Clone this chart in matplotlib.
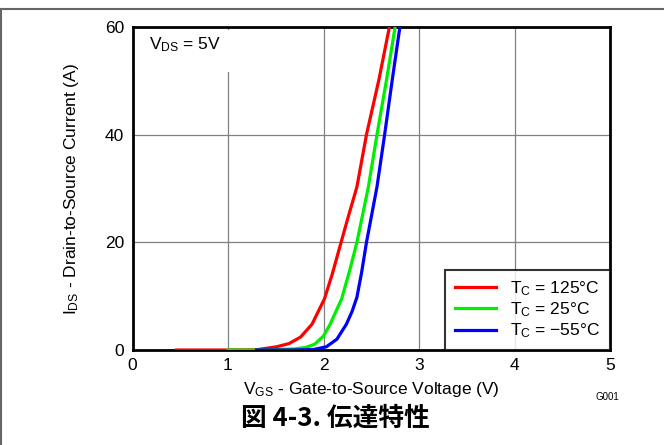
import matplotlib
matplotlib.use("Agg")
import matplotlib.pyplot as plt
from matplotlib.lines import Line2D
from matplotlib.patches import Rectangle

plt.rcParams['font.family'] = ['Liberation Sans', 'DejaVu Sans']
plt.rcParams['mathtext.fontset'] = 'custom'
plt.rcParams['mathtext.rm'] = 'Liberation Sans'
plt.rcParams['mathtext.it'] = 'Liberation Sans'

# Data
v_red = [0.46, 1.0, 1.3, 1.51, 1.64, 1.76, 1.88, 2.01, 2.09, 2.17, 2.26, 2.35, 2.45, 2.58, 2.69, 2.75]
i_red = [0, 0, 0.05, 0.6, 1.2, 2.4, 4.8, 9.5, 14.0, 19.1, 24.8, 30.3, 40, 50.2, 60, 65]
v_green = [1.0, 1.4, 1.7, 1.82, 1.91, 2.0, 2.07, 2.19, 2.27, 2.35, 2.47, 2.56, 2.66, 2.75, 2.8]
i_green = [0, 0, 0.2, 0.5, 1.1, 2.6, 4.8, 9.5, 14.5, 20, 30.3, 40, 50.2, 60, 65]
v_blue = [1.3, 1.7, 1.9, 2.03, 2.14, 2.24, 2.30, 2.35, 2.40, 2.45, 2.56, 2.64, 2.72, 2.80, 2.85]
i_blue = [0, 0, 0.1, 0.6, 2, 4.8, 7.2, 9.8, 14.5, 20, 30.3, 40, 50.2, 60, 65]
labels = [r'$\mathregular{T_C}$ = 125°C', r'$\mathregular{T_C}$ = 25°C', r'$\mathregular{T_C}$ = −55°C']
xticks = [0, 1, 2, 3, 4, 5]
yticks = [0, 20, 40, 60]

fig = plt.figure(figsize=(6.64, 4.45), dpi=100)
ax = fig.add_axes([132.5/664, 1-350/445, (610-132.5)/664, (350-27)/445])

ax.plot(v_red, i_red, color='#ff0000', lw=2.3, label=labels[0], zorder=3)
ax.plot(v_green, i_green, color='#00ee00', lw=2.3, label=labels[1], zorder=3)
ax.plot(v_blue, i_blue, color='#0000ff', lw=2.3, label=labels[2], zorder=3)

ax.set_xlim(0, 5)
ax.set_ylim(0, 60)
ax.set_xticks(xticks)
ax.set_yticks(yticks)
ax.tick_params(length=0, labelsize=12.5, pad=6)
ax.grid(True, color='#808080', lw=0.9)
ax.set_axisbelow(True)
for s in ax.spines.values():
    s.set_linewidth(2)
    s.set_color('black')

ax.add_patch(Rectangle((0.003, 0.862), 0.25, 0.13, transform=ax.transAxes,
                       facecolor='white', edgecolor='none', zorder=1.5))
ax.text(0.035, 0.945, r'$\mathregular{V_{DS}}$ = 5V', transform=ax.transAxes,
        fontsize=12.5, va='center', ha='left', zorder=4)

ax.set_xlabel(r'$\mathregular{V_{GS}}$ - Gate-to-Source Voltage (V)', fontsize=12.5, labelpad=5)
ax.set_ylabel(r'$\mathregular{I_{DS}}$ - Drain-to-Source Current (A)', fontsize=12.5, labelpad=17)

leg = ax.legend(loc='lower right', fontsize=12.5, frameon=True, fancybox=False,
                borderaxespad=0, handlelength=2.4, handletextpad=0.8,
                labelspacing=0.15, borderpad=0.55)
leg.get_frame().set_edgecolor('black')
leg.get_frame().set_linewidth(1.5)

fig.text(607/664, 1-397/445, 'G001', fontsize=7, ha='center', va='center')
fig.text(335/664, 1-418/445, '図 4-3. 伝達特性', fontsize=18.5, fontweight='bold',
         ha='center', va='center', family=['Noto Sans CJK JP', 'DejaVu Sans'])

fig.add_artist(Line2D([0, 1], [1-9/445, 1-9/445], transform=fig.transFigure,
                      color='#666666', lw=1.5))
fig.add_artist(Line2D([0.5/664, 0.5/664], [0, 1-9/445], transform=fig.transFigure,
                      color='#666666', lw=1.5))

fig.savefig('out.png', dpi=100)
